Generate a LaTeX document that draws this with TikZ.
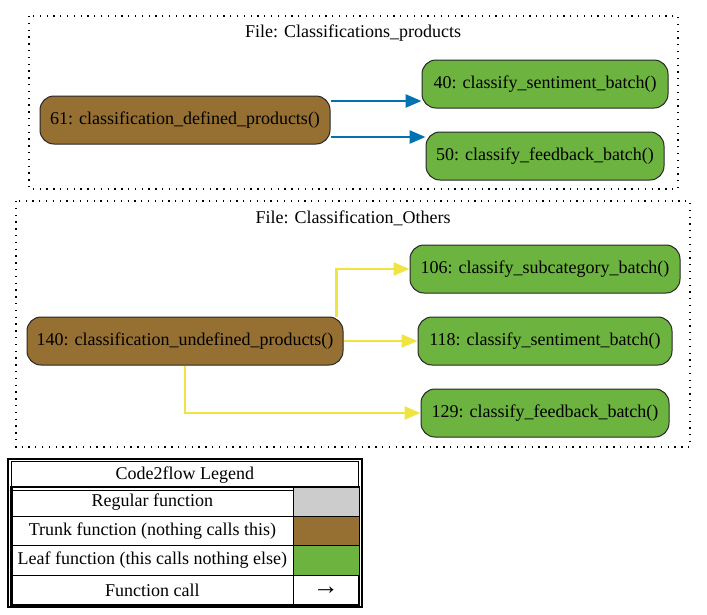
\documentclass[tikz,border=0pt]{standalone}
\usepackage{fontspec}
\setmainfont{Liberation Serif}
\usetikzlibrary{arrows.meta,calc}
\definecolor{trunk}{HTML}{966F33}
\definecolor{leaf}{HTML}{6DB33F}
\definecolor{regular}{HTML}{CCCCCC}
\definecolor{eblue}{HTML}{0072B2}
\definecolor{eyellow}{HTML}{F0E442}
\begin{document}
\begin{tikzpicture}[x=1pt,y=-1pt,
  fn/.style={draw=black!85,line width=1pt,rounded corners=14pt,minimum height=48pt,inner sep=0pt,font=\fontsize{18}{21}\selectfont},
  trunkfn/.style={fn,fill=trunk},
  leaffn/.style={fn,fill=leaf},
  cluster/.style={draw,line width=1.3pt,dash pattern=on 1.3pt off 5.5pt},
  title/.style={font=\fontsize{18}{21}\selectfont,inner sep=0pt},
  call/.style={line width=2.6pt,-{Triangle[length=16pt,width=13pt]}},
  cell/.style={draw,line width=0.9pt,minimum height=29pt,inner sep=0pt,font=\fontsize{18}{21}\selectfont,anchor=north west}
]
\useasboundingbox (0,0) rectangle (707,614);
% cluster 1
\draw[cluster] (29,16) rectangle (678,189);
\node[title] (t1) at (353,33) {File: Classifications\_products};
\node[trunkfn,minimum width=290pt] (n61) at (185,120) {61: classification\_defined\_products()};
\node[leaffn,minimum width=246pt] (n40) at (545,84) {40: classify\_sentiment\_batch()};
\node[leaffn,minimum width=238pt] (n50) at (545,156) {50: classify\_feedback\_batch()};
\draw[call,eblue] ([yshift=19pt]n61.east) -- ([yshift=19pt]n61.east -| n40.west);
\draw[call,eblue] ([yshift=-17pt]n61.east) -- ([yshift=-17pt]n61.east -| n50.west);
% cluster 2
\draw[cluster] (16,201) rectangle (690,447);
\node[title] (t2) at (353,218) {File: Classification\_Others};
\node[trunkfn,minimum width=316pt] (n140) at (185,341) {140: classification\_undefined\_products()};
\node[leaffn,minimum width=270pt] (n106) at (545,269) {106: classify\_subcategory\_batch()};
\node[leaffn,minimum width=254pt] (n118) at (545,341) {118: classify\_sentiment\_batch()};
\node[leaffn,minimum width=248pt] (n129) at (545,413) {129: classify\_feedback\_batch()};
\draw[call,eyellow] ([xshift=-7pt]n140.north east) -- ([xshift=-7pt]n140.north east |- n106.west) -- (n106.west);
\draw[call,eyellow] (n140.east) -- (n118.west);
\draw[call,eyellow] (n140.south) -- (n140.south |- n129.west) -- (n129.west);
% legend
\draw[line width=2pt] (8,459) rectangle (361.5,607);
\node[cell,minimum width=347pt] (lt) at (11,460.5) {Code2flow Legend};
\draw[line width=1.8pt] (11,487) rectangle (359,605);
\node[cell,minimum width=281pt] (l1) at (11.5,487) {Regular function};
\node[cell,minimum width=66pt,fill=regular] (c1) at (292.5,487) {};
\node[cell,minimum width=281pt] (l2) at (11.5,516) {Trunk function (nothing calls this)};
\node[cell,minimum width=66pt,fill=trunk] (c2) at (292.5,516) {};
\node[cell,minimum width=281pt,minimum height=30pt] (l3) at (11.5,545) {Leaf function (this calls nothing else)};
\node[cell,minimum width=66pt,minimum height=30pt,fill=leaf] (c3) at (292.5,545) {};
\node[cell,minimum width=281pt,minimum height=30pt] (l4) at (11.5,575) {Function call};
\node[cell,minimum width=66pt,minimum height=30pt] (c4) at (292.5,575) {\fontsize{26}{26}\selectfont →};
\end{tikzpicture}
\end{document}
